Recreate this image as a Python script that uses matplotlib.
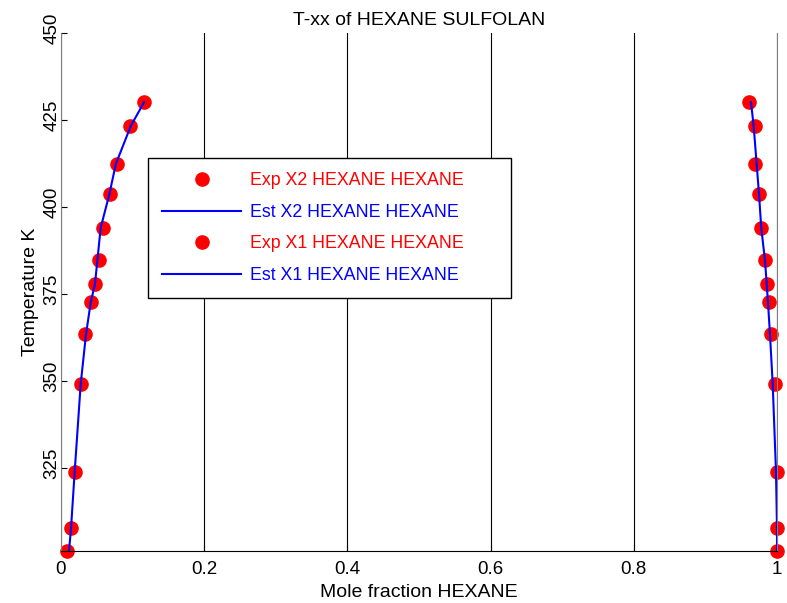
import numpy as np
import matplotlib
matplotlib.use("Agg")
import matplotlib.pyplot as plt
import matplotlib.transforms as mtransforms

plt.rcParams["font.family"] = ["Liberation Sans", "DejaVu Sans"]

# temperatures (K)
T = [430.1, 423.3, 412.3, 403.65, 394.0, 384.7, 377.9, 372.6, 363.4, 349.1, 323.9, 307.7, 301.15]

# left branch (X2)
exp_x2 = [0.1163, 0.0968, 0.0782, 0.0689, 0.0582, 0.0527, 0.0475, 0.0415, 0.0331, 0.0275, 0.0191, 0.0140, 0.0080]
est_x2 = [0.1160, 0.0975, 0.0765, 0.0675, 0.0554, 0.0508, 0.0475, 0.0415, 0.0349, 0.0275, 0.0191, 0.0140, 0.0112]

# right branch (X1)
exp_x1 = [0.9613, 0.9693, 0.9693, 0.9749, 0.9777, 0.9837, 0.9860, 0.9888, 0.9916, 0.9972, 1.0, 1.0, 1.0]
est_x1 = [0.9637, 0.9674, 0.9716, 0.9749, 0.9780, 0.9832, 0.9856, 0.9874, 0.9902, 0.9940, 0.9986, 1.0, 1.0]

yticks = [325, 350, 375, 400, 425, 450]
xticks = [0, 0.2, 0.4, 0.6, 0.8, 1]
xticklabels = ["0", "0.2", "0.4", "0.6", "0.8", "1"]

fig = plt.figure(figsize=(7.87, 6.03), dpi=100)
ax = fig.add_axes([61/787, 1 - 551/603, 716/787, 518/603])

ax.plot(exp_x2, T, "o", color="red", ms=9.5, clip_on=False, label="Exp X2 HEXANE HEXANE")
ax.plot(est_x2, T, "-", color="blue", lw=1.5, clip_on=False, label="Est X2 HEXANE HEXANE")
ax.plot(exp_x1, T, "o", color="red", ms=9.5, clip_on=False, label="Exp X1 HEXANE HEXANE")
ax.plot(est_x1, T, "-", color="blue", lw=1.5, clip_on=False, label="Est X1 HEXANE HEXANE")

ax.set_xlim(0, 1)
ax.set_ylim(min(T), 450)
ax.set_xticks(xticks)
ax.set_xticklabels(xticklabels)
ax.set_yticks(yticks)

ax.grid(axis="x", color="black", lw=0.8, ls="-")
ax.set_axisbelow(True)

ax.spines["top"].set_visible(False)
ax.spines["left"].set_color("#808080")
ax.spines["right"].set_color("#808080")
ax.spines["bottom"].set_color("black")
ax.tick_params(direction="in", length=4.5, width=0.8, labelsize=13.5)
ax.tick_params(axis="x", pad=7.5)
ax.tick_params(axis="y", labelrotation=90, pad=0.5)
# y labels sit a bit above their ticks in the original
shift = mtransforms.ScaledTranslation(0, 5/100, fig.dpi_scale_trans)
for lab in ax.get_yticklabels():
    lab.set_va("center")
    lab.set_transform(lab.get_transform() + shift)

ax.set_title("T-xx of HEXANE SULFOLAN", fontsize=14, pad=6)
ax.set_xlabel("Mole fraction HEXANE", fontsize=14, labelpad=4)
ax.set_ylabel("Temperature K", fontsize=14, labelpad=3)

leg = ax.legend(loc="upper left", bbox_to_anchor=(0.1215, 0.4846, 0.5065, 0.2741),
                mode="expand", borderaxespad=0, fancybox=False, framealpha=1,
                edgecolor="black", handlelength=4.45, handletextpad=0.5,
                borderpad=0.8, labelspacing=0.82, prop={"size": 12.8})
leg.get_frame().set_linewidth(1.0)
for txt, line in zip(leg.get_texts(), leg.get_lines()):
    txt.set_color(line.get_color())

fig.savefig("out.png", dpi=100)
